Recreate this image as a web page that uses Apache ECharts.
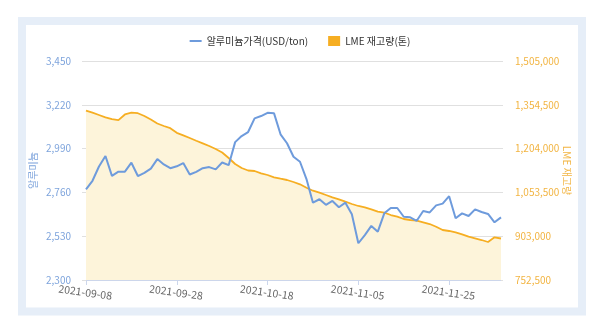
<!DOCTYPE html>
<html>
<head>
<meta charset="utf-8">
<script src="https://cdn.jsdelivr.net/npm/echarts@6/dist/echarts.min.js"></script>
<style>
  html, body { margin: 0; padding: 0; background: #ffffff; }
  #chart { width: 600px; height: 325px; }
</style>
</head>
<body>
<div id="chart"></div>
<script>
// Trading days (weekdays), 2021-09-08 .. 2021-12-07
const dates = [
  '2021-09-08','2021-09-09','2021-09-10','2021-09-13','2021-09-14','2021-09-15','2021-09-16','2021-09-17',
  '2021-09-20','2021-09-21','2021-09-22','2021-09-23','2021-09-24','2021-09-27','2021-09-28','2021-09-29',
  '2021-09-30','2021-10-01','2021-10-04','2021-10-05','2021-10-06','2021-10-07','2021-10-08','2021-10-11',
  '2021-10-12','2021-10-13','2021-10-14','2021-10-15','2021-10-18','2021-10-19','2021-10-20','2021-10-21',
  '2021-10-22','2021-10-25','2021-10-26','2021-10-27','2021-10-28','2021-10-29','2021-11-01','2021-11-02',
  '2021-11-03','2021-11-04','2021-11-05','2021-11-08','2021-11-09','2021-11-10','2021-11-11','2021-11-12',
  '2021-11-15','2021-11-16','2021-11-17','2021-11-18','2021-11-19','2021-11-22','2021-11-23','2021-11-24',
  '2021-11-25','2021-11-26','2021-11-29','2021-11-30','2021-12-01','2021-12-02','2021-12-03','2021-12-06',
  '2021-12-07'
];

// Aluminium cash price, USD/ton
const aluminiumPrice = [
  2776, 2821, 2896, 2951, 2847, 2869, 2869, 2916, 2846, 2863, 2885, 2935, 2907, 2887, 2897, 2914,
  2854, 2868, 2887, 2893, 2881, 2917, 2903, 3024, 3056, 3077, 3149, 3161, 3178, 3175, 3065, 3018,
  2947, 2921, 2830, 2706, 2724, 2695, 2715, 2682, 2706, 2645, 2493, 2536, 2584, 2554, 2650, 2678,
  2678, 2632, 2629, 2611, 2662, 2655, 2692, 2701, 2740, 2624, 2650, 2636, 2671, 2657, 2647, 2603,
  2629
];

// LME aluminium stocks, tonnes
const lmeStock = [
  1334200, 1327300, 1319400, 1311500, 1305000, 1301600, 1321200, 1327300, 1325600, 1316000, 1304000,
  1290200, 1281600, 1274100, 1258300, 1249700, 1240400, 1231100, 1222200, 1212900, 1202600, 1190600,
  1171700, 1151100, 1137300, 1128700, 1127000, 1119100, 1113300, 1105400, 1100600, 1096100, 1089200,
  1081300, 1069600, 1059300, 1052500, 1044600, 1036700, 1029800, 1021500, 1013600, 1006800, 1002300,
  995400, 987200, 983700, 975800, 970000, 962100, 958700, 956300, 950800, 944900, 935600, 924300,
  920900, 916400, 909500, 901300, 895800, 889900, 883100, 899200, 895100
];

const priceAxis = { min: 2300, max: 3450, interval: 230 };
const stockAxis = { min: 752500, max: 1505000, interval: 150500 };

const FONT = '"Noto Sans CJK KR", "Noto Sans", sans-serif';
const BLUE = '#6e9bdc';
const ORANGE = '#f6ae22';

const chart = echarts.init(document.getElementById('chart'), null, { renderer: 'canvas' });

chart.setOption({
  animation: false,
  textStyle: { fontFamily: FONT },
  graphic: [{
    type: 'rect',
    silent: true,
    z: -10,
    shape: { x: 22, y: 21, width: 560, height: 290.5 },
    style: { fill: '#ffffff', stroke: '#e6eef8', lineWidth: 8 }
  }],
  legend: {
    top: 31,
    left: 'center',
    itemWidth: 12,
    itemHeight: 10,
    itemGap: 20,
    textStyle: { fontFamily: FONT, fontSize: 10, color: '#333333' },
    data: [
      { name: '알루미늄가격(USD/ton)', icon: 'path://M0,0H12V2H0Z' },
      { name: 'LME 재고량(톤)', icon: 'rect' }
    ]
  },
  grid: { left: 86, right: 99, top: 61, bottom: 45, containLabel: false },
  xAxis: {
    type: 'category',
    data: dates,
    boundaryGap: false,
    axisLine: { lineStyle: { color: '#ccd6eb', width: 1 } },
    axisTick: { interval: 13, length: 5, lineStyle: { color: '#ccd6eb' } },
    axisLabel: {
      interval: 13,
      rotate: -8,
      align: 'center',
      verticalAlign: 'top',
      margin: 7,
      color: '#666666',
      fontFamily: FONT,
      fontSize: 10.5
    },
    splitLine: { show: false }
  },
  yAxis: [{
    type: 'value',
    position: 'left',
    min: priceAxis.min,
    max: priceAxis.max,
    interval: priceAxis.interval,
    name: '알루미늄',
    nameLocation: 'middle',
    nameRotate: 90,
    nameGap: 48,
    nameMoveOverlap: false,
    nameTextStyle: { color: '#7ea4dc', fontSize: 10, fontFamily: FONT },
    axisLine: { show: false },
    axisTick: { show: true, length: 4, lineStyle: { color: '#e0e0e0' } },
    axisLabel: {
      color: '#7ea4dc',
      fontSize: 10,
      fontFamily: FONT,
      margin: 15,
      formatter: v => v.toLocaleString('en-US')
    },
    splitLine: { lineStyle: { color: '#e0e0e0', width: 1 } }
  }, {
    type: 'value',
    position: 'right',
    min: stockAxis.min,
    max: stockAxis.max,
    interval: stockAxis.interval,
    name: 'LME 재고량',
    nameLocation: 'middle',
    nameRotate: -90,
    nameGap: 61,
    nameMoveOverlap: false,
    nameTextStyle: { color: '#f2b441', fontSize: 10, fontFamily: FONT },
    axisLine: { show: false },
    axisTick: { show: true, length: 2, lineStyle: { color: '#e0e0e0' } },
    axisLabel: {
      color: '#f2b441',
      fontSize: 10,
      fontFamily: FONT,
      margin: 14,
      formatter: v => v.toLocaleString('en-US')
    },
    splitLine: { show: false }
  }],
  series: [{
    name: '알루미늄가격(USD/ton)',
    type: 'line',
    yAxisIndex: 0,
    data: aluminiumPrice,
    symbol: 'none',
    z: 3,
    itemStyle: { color: BLUE },
    lineStyle: { color: BLUE, width: 2 }
  }, {
    name: 'LME 재고량(톤)',
    type: 'line',
    yAxisIndex: 1,
    data: lmeStock,
    symbol: 'none',
    z: 2,
    itemStyle: { color: ORANGE },
    lineStyle: { color: ORANGE, width: 1.8 },
    areaStyle: { color: '#fdf4da', opacity: 1 }
  }]
});
</script>
</body>
</html>
